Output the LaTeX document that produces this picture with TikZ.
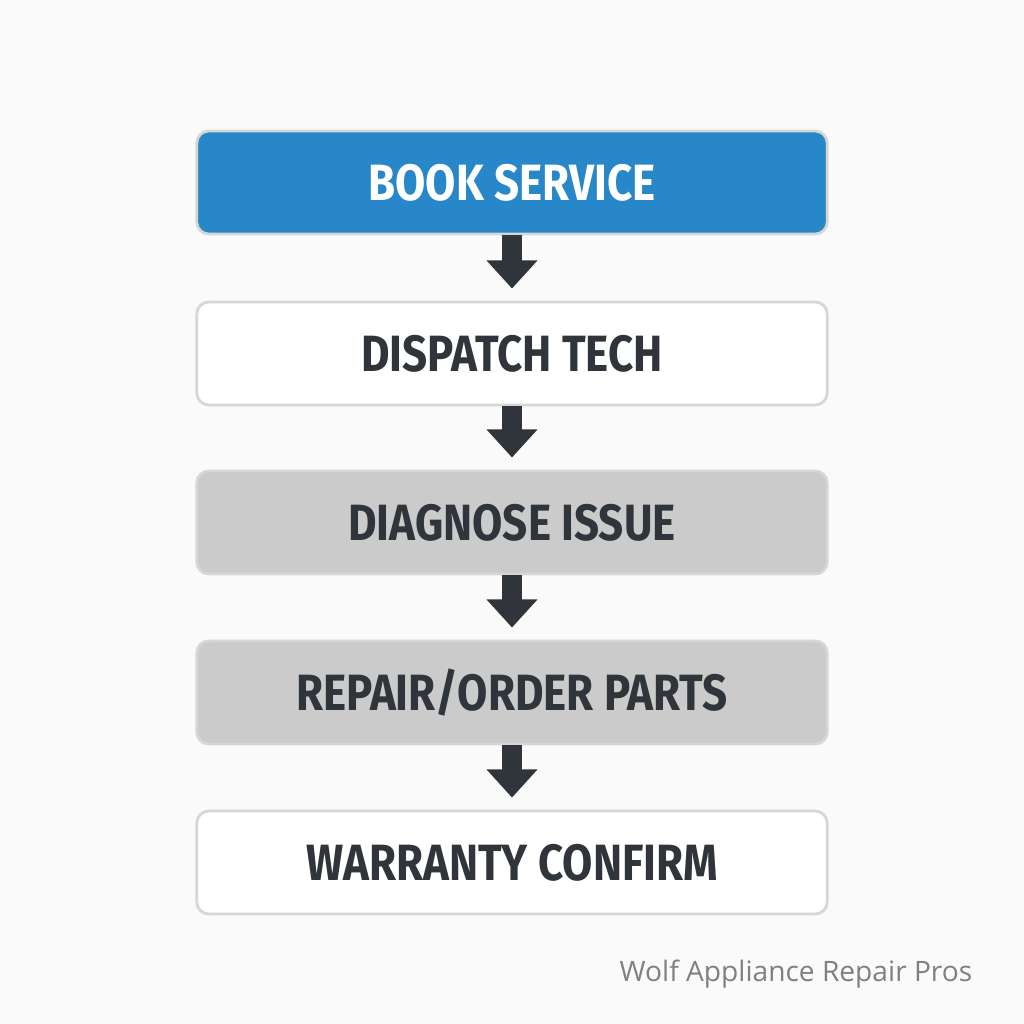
\documentclass[tikz,border=0pt]{standalone}
\usepackage{fontspec}
\usetikzlibrary{arrows.meta}
\newfontfamily\stepfont[FakeStretch=0.86]{Fira Sans}
\newfontfamily\markfont{Open Sans}
\definecolor{bookblue}{HTML}{2787C8}
\definecolor{boxgray}{HTML}{CBCBCB}
\definecolor{edgegray}{HTML}{D6D6D6}
\definecolor{inkdark}{HTML}{2F353A}
\definecolor{paper}{HTML}{FAFAFA}
\tikzset{
  stepbox/.style={draw=edgegray, line width=0.8pt, rounded corners=0.12cm,
    minimum width=6.3cm, minimum height=1.03cm,
    font=\stepfont\bfseries\fontsize{14.5}{16}\selectfont, text=inkdark},
  fatarrow/.style={draw=inkdark, line width=5.7pt,
    -{Triangle[width=14pt,length=8pt]}, shorten >=0.12cm}
}
\begin{document}
\begin{tikzpicture}[x=0.01cm,y=-0.01cm]
% Page and margins
\fill[paper] (0,0) rectangle (1024,1024);
\useasboundingbox (0,0) rectangle (1024,1024);

% The five steps
\node[stepbox, fill=bookblue, text=white] (book) at (512,182.5) {BOOK SERVICE};
\node[stepbox, fill=white] (dispatch) at (512,353.5) {DISPATCH TECH};
\node[stepbox, fill=boxgray] (diagnose) at (512,522.5) {DIAGNOSE ISSUE};
\node[stepbox, fill=boxgray] (repair) at (512,692.5) {REPAIR/ORDER PARTS};
\node[stepbox, fill=white] (warranty) at (512,862.5) {WARRANTY CONFIRM};

% Arrows between them
\draw[fatarrow] (book.south) -- (dispatch.north);
\draw[fatarrow] (dispatch.south) -- (diagnose.north);
\draw[fatarrow] (diagnose.south) -- (repair.north);
\draw[fatarrow] (repair.south) -- (warranty.north);

% Watermark
\node[anchor=base east, inner sep=0pt, text=black!50,
  font=\markfont\fontsize{8}{10}\selectfont] (mark) at (973,981) {Wolf Appliance Repair Pros};
\end{tikzpicture}
\end{document}
